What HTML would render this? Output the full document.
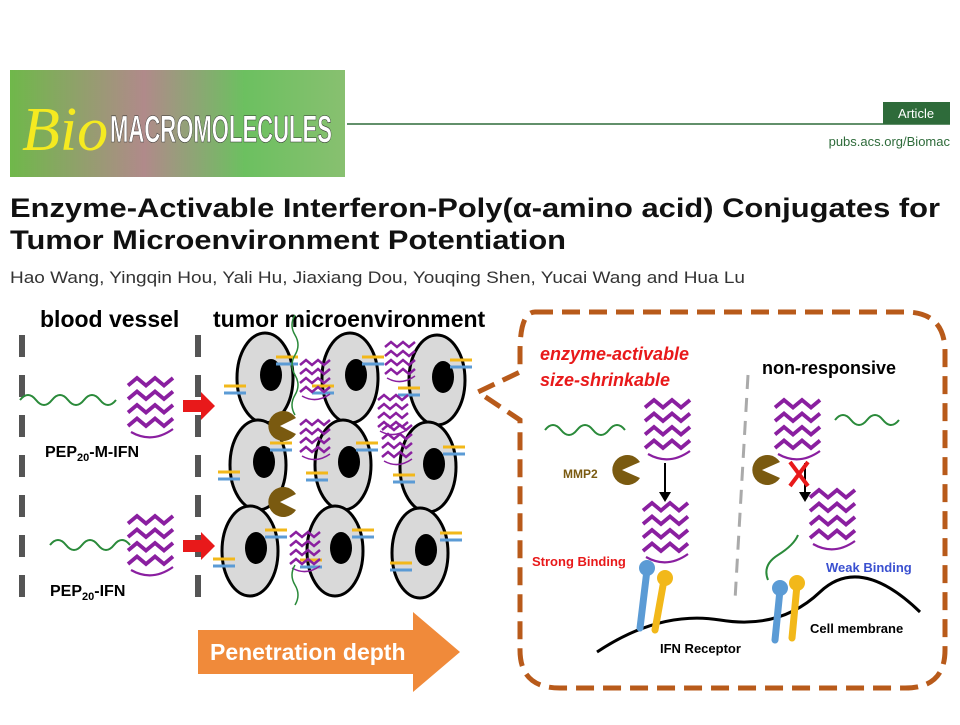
<!DOCTYPE html><html><head><style>body{margin:0;width:960px;height:720px;background:#fff;overflow:hidden;font-family:"Liberation Sans",sans-serif}</style></head><body>
<svg width="960" height="720" xmlns="http://www.w3.org/2000/svg" font-family="Liberation Sans, sans-serif">
<defs><linearGradient id="bg" x1="0" x2="1"><stop offset="0" stop-color="#6fb84a"/><stop offset=".4" stop-color="#b08a8a"/><stop offset=".7" stop-color="#6cc060"/><stop offset="1" stop-color="#88c070"/></linearGradient>
<g id="cell"><ellipse cx="0" cy="0" rx="28" ry="45" fill="#d9d9d9" stroke="#000" stroke-width="3"/><ellipse cx="6" cy="-3" rx="11" ry="16" fill="#000"/></g>
<g id="prot0" stroke="#8a1fa0" stroke-width="2.5" fill="none"><path d="M0 5 L6 0 L12 5 L18 0 L24 5 L30 0"/><path d="M0 14 L6 9 L12 14 L18 9 L24 14 L30 9"/><path d="M0 23 L6 18 L12 23 L18 18 L24 23 L30 18"/><path d="M0 32 L6 27 L12 32 L18 27 L24 32 L30 27"/><path d="M2 36 q14 8 28 -2" stroke-width="1.5"/></g>
<g id="prot"><g transform="scale(1.5)"><use href="#prot0"/></g></g>
<g id="rec"><line x1="0" y1="0" x2="22" y2="0" stroke="#f2b81a" stroke-width="3"/><line x1="0" y1="7" x2="22" y2="7" stroke="#5b9bd5" stroke-width="3"/></g>
</defs>
<rect x="10" y="70" width="335" height="107" fill="url(#bg)"/>
<text x="22" y="150" font-family="Liberation Serif" font-style="italic" font-size="62" fill="#f5ea20">Bio</text>
<text x="110" y="142" font-size="38" font-weight="bold" fill="#fff" stroke="#333" stroke-width=".6" textLength="222" lengthAdjust="spacingAndGlyphs">MACROMOLECULES</text>
<line x1="347" y1="124" x2="950" y2="124" stroke="#2e6b3a" stroke-width="1.5"/>
<rect x="883" y="102" width="67" height="22" fill="#2e6b3a"/><text x="916" y="118" font-size="13" fill="#fff" text-anchor="middle">Article</text>
<text x="950" y="146" font-size="13" fill="#2e6b3a" text-anchor="end">pubs.acs.org/Biomac</text>
<text x="10" y="217" font-size="27" font-weight="bold" fill="#111" textLength="930" lengthAdjust="spacingAndGlyphs">Enzyme-Activable Interferon-Poly(α-amino acid) Conjugates for</text>
<text x="10" y="249" font-size="27" font-weight="bold" fill="#111" textLength="556" lengthAdjust="spacingAndGlyphs">Tumor Microenvironment Potentiation</text>
<text x="10" y="283" font-size="17" fill="#333" textLength="735" lengthAdjust="spacingAndGlyphs">Hao Wang, Yingqin Hou, Yali Hu, Jiaxiang Dou, Youqing Shen, Yucai Wang and Hua Lu</text>
<text x="40" y="327" font-size="23" font-weight="bold">blood vessel</text>
<text x="213" y="327" font-size="23" font-weight="bold">tumor microenvironment</text>
<g stroke="#555" stroke-width="6" stroke-dasharray="22,18"><line x1="22" y1="335" x2="22" y2="610"/><line x1="198" y1="335" x2="198" y2="610"/></g>
<path d="M20 400 q8-10 16 0 t16 0 t16 0 t16 0 t16 0 t16 0" stroke="#2a8a3a" stroke-width="2" fill="none"/>
<path d="M50 545 q8-10 16 0 t16 0 t16 0 t16 0 t16 0" stroke="#2a8a3a" stroke-width="2" fill="none"/>
<use href="#prot" x="128" y="378"/><use href="#prot" x="128" y="516"/>
<text x="45" y="457" font-size="16" font-weight="bold">PEP<tspan font-size="11" dy="4">20</tspan><tspan dy="-4">-M-IFN</tspan></text>
<text x="50" y="596" font-size="16" font-weight="bold">PEP<tspan font-size="11" dy="4">20</tspan><tspan dy="-4">-IFN</tspan></text>
<path d="M183 400 h18 v-8 l14 14 -14 14 v-8 h-18z" fill="#e8191a"/>
<path d="M183 540 h18 v-8 l14 14 -14 14 v-8 h-18z" fill="#e8191a"/>
<g>
<use href="#cell" x="265" y="378"/><use href="#cell" x="350" y="378"/><use href="#cell" x="437" y="380"/>
<use href="#cell" x="258" y="465"/><use href="#cell" x="343" y="465"/><use href="#cell" x="428" y="467"/>
<use href="#cell" x="250" y="551"/><use href="#cell" x="335" y="551"/><use href="#cell" x="420" y="553"/>
</g>
<use href="#rec" x="276" y="357"/><use href="#rec" x="224" y="386"/><use href="#rec" x="362" y="357"/><use href="#rec" x="312" y="386"/><use href="#rec" x="450" y="360"/><use href="#rec" x="398" y="388"/>
<use href="#rec" x="270" y="443"/><use href="#rec" x="218" y="472"/><use href="#rec" x="356" y="443"/><use href="#rec" x="306" y="473"/><use href="#rec" x="443" y="447"/><use href="#rec" x="393" y="475"/>
<use href="#rec" x="265" y="530"/><use href="#rec" x="213" y="559"/><use href="#rec" x="352" y="530"/><use href="#rec" x="300" y="560"/><use href="#rec" x="440" y="533"/><use href="#rec" x="390" y="563"/>
<use href="#prot0" x="300" y="360"/><use href="#prot0" x="300" y="420"/><use href="#prot0" x="385" y="342"/><use href="#prot0" x="378" y="395"/><use href="#prot0" x="382" y="425"/><use href="#prot0" x="290" y="532"/>
<path d="M295 315 q-6 10 0 20 t0 20 t0 20 t0 20 t0 20" stroke="#2a8a3a" stroke-width="1.5" fill="none"/>
<path d="M295 565 q-6 10 0 20 t0 20" stroke="#2a8a3a" stroke-width="1.5" fill="none"/>
<path d="M296 418 L280 426 L296 434 A15 15 0 1 1 296 418z" fill="#7a5a10"/>
<path d="M296 494 L280 502 L296 510 A15 15 0 1 1 296 494z" fill="#7a5a10"/>
<path d="M198 630 H413 V612 L460 652 L413 692 V674 H198Z" fill="#f08a3a"/>
<text x="210" y="660" font-size="23" font-weight="bold" fill="#fff">Penetration depth</text>
<path d="M535 312 H905 Q945 312 945 352 V650 Q945 688 905 688 H560 Q520 688 520 650 V420 L478 392 L520 372 V352 Q520 312 535 312Z" fill="none" stroke="#b85a1a" stroke-width="5" stroke-dasharray="18,9"/>
<line x1="748" y1="375" x2="735" y2="600" stroke="#aaa" stroke-width="3" stroke-dasharray="14,9"/>
<text x="540" y="360" font-size="18" font-weight="bold" font-style="italic" fill="#e8191a">enzyme-activable</text>
<text x="540" y="386" font-size="18" font-weight="bold" font-style="italic" fill="#e8191a">size-shrinkable</text>
<text x="762" y="374" font-size="18" font-weight="bold">non-responsive</text>
<path d="M545 430 q8-10 16 0 t16 0 t16 0 t16 0 t16 0" stroke="#2a8a3a" stroke-width="2" fill="none"/>
<use href="#prot" x="645" y="400"/><use href="#prot" x="775" y="400"/>
<path d="M835 420 q8-10 16 0 t16 0 t16 0 t16 0" stroke="#2a8a3a" stroke-width="2" fill="none"/>
<text x="563" y="478" font-size="12" font-weight="bold" fill="#7a5a10">MMP2</text>
<path d="M640 462 L622 470 L640 478 A15 15 0 1 1 640 462z" fill="#7a5a10"/>
<path d="M780 462 L762 470 L780 478 A15 15 0 1 1 780 462z" fill="#7a5a10"/>
<line x1="665" y1="463" x2="665" y2="495" stroke="#000" stroke-width="2"/><path d="M659 492 l6 10 6-10z"/>
<line x1="805" y1="463" x2="805" y2="495" stroke="#000" stroke-width="2"/><path d="M799 492 l6 10 6-10z"/>
<path d="M790 462 l18 24 M808 462 l-18 24" stroke="#e8191a" stroke-width="4"/>
<use href="#prot" x="643" y="503"/><use href="#prot" x="810" y="490"/>
<path d="M768 580 q-6-15 10-25 t20-20" stroke="#2a8a3a" stroke-width="2" fill="none"/>
<text x="532" y="566" font-size="13" font-weight="bold" fill="#e8191a">Strong Binding</text>
<text x="826" y="572" font-size="13" font-weight="bold" fill="#3a50d0">Weak Binding</text>
<path d="M597 652 Q660 610 720 620 T820 592 T920 612" stroke="#000" stroke-width="3" fill="none"/>
<g stroke-width="7" stroke-linecap="round"><line x1="647" y1="570" x2="640" y2="628" stroke="#5b9bd5"/><line x1="664" y1="580" x2="655" y2="630" stroke="#f2b81a"/><line x1="780" y1="590" x2="775" y2="640" stroke="#5b9bd5"/><line x1="797" y1="585" x2="792" y2="638" stroke="#f2b81a"/></g>
<circle cx="647" cy="568" r="8" fill="#5b9bd5"/><circle cx="665" cy="578" r="8" fill="#f2b81a"/><circle cx="780" cy="588" r="8" fill="#5b9bd5"/><circle cx="797" cy="583" r="8" fill="#f2b81a"/>
<text x="660" y="653" font-size="13" font-weight="bold">IFN Receptor</text>
<text x="810" y="633" font-size="13" font-weight="bold">Cell membrane</text>
</svg></body></html>
